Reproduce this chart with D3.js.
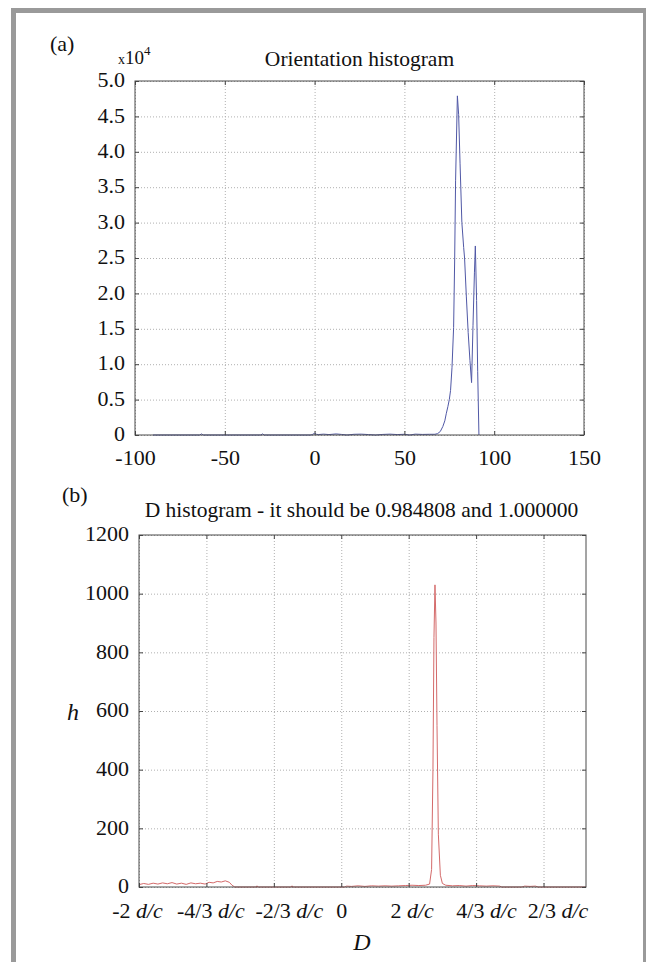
<!DOCTYPE html>
<html>
<head>
<meta charset="utf-8">
<script src="https://cdn.jsdelivr.net/npm/d3@7"></script>
<style>
  body { margin: 0; background: #fff; }
  svg text { font-family: "Liberation Serif", "Times New Roman", serif; fill: #111; }
  .grid line { stroke: #b0b0b0; stroke-dasharray: 1 2; }
  .grid path { display: none; }
  .ax path { display: none; }
  .ax line { stroke: #444; }
</style>
</head>
<body>
<svg id="chart" width="646" height="962"></svg>
<script>
/* DATA */

// (a) orientation histogram: angle (deg) -> count
const orientAngles = [-90, -64, -63, -62, -30, -29, -28, -2, -1, 0, 1, 2, 5, 8, 12, 15, 18, 22, 26, 30, 34, 38, 42, 46, 50, 53, 56, 60, 64,
  67, 68.5, 70, 71.4, 72.5, 73.3, 74.2, 75, 75.7, 76.5, 77.4, 78, 78.5, 79.5, 80.2, 81, 82, 83, 83.5, 84.5, 85.5, 86.5, 87.4,
  88.2, 89, 89.5, 90.2, 90.8, 91.5];
const orientCounts = [0, 0, 150, 0, 0, 150, 0, 0, 100, 250, 100, 60, 120, 60, 150, 80, 0, 100, 120, 60, 0, 80, 120, 60, 100, 0, 120, 80, 100,
  100, 200, 500, 1200, 2000, 3000, 4000, 5000, 6300, 9500, 15200, 25000, 35900, 47900, 45300, 38300, 30000, 26500, 25000, 19500, 14500, 10500, 7400,
  15500, 23000, 26700, 19000, 9000, 0];
const orientTicksX = [-100, -50, 0, 50, 100, 150];
const orientTicksY = [0, 5000, 10000, 15000, 20000, 25000, 30000, 35000, 40000, 45000, 50000];

// (b) D histogram: position (in units of d/c tick steps) -> h
const dPos = [-3.00, -2.93, -2.86, -2.79, -2.72, -2.65, -2.58, -2.51, -2.44, -2.37, -2.30, -2.23, -2.16, -2.09, -2.02,
  -1.96, -1.90, -1.84, -1.78, -1.72, -1.66, -1.62, -1.58, -1.26, -1.25, -1.24, -0.74, -0.73, -0.72,
  0.05, 0.08, 0.15, 0.25, 0.35, 0.45, 0.55, 0.65, 0.75, 0.85, 0.95, 1.05, 1.15, 1.25,
  1.31, 1.34, 1.36, 1.375, 1.39, 1.405, 1.42, 1.44, 1.47, 1.50, 1.55, 1.65, 1.75, 1.85, 1.95, 2.05, 2.15, 2.25, 2.35, 2.38,
  2.68, 2.72, 2.80, 2.88, 2.92, 3.63];
const dCounts = [8, 12, 9, 13, 10, 14, 11, 15, 10, 13, 9, 14, 11, 13, 10,
  16, 14, 19, 17, 21, 16, 6, 0, 0, 4, 0, 0, 4, 0,
  0, 3, 2, 4, 2, 4, 3, 4, 3, 4, 5, 6, 5, 6,
  10, 60, 400, 850, 1030, 900, 550, 180, 40, 12, 6, 4, 5, 3, 5, 4, 3, 4, 3, 0,
  0, 3, 2, 3, 0, 0];
const dTicksX = [-3, -2, -1, 0, 1, 2, 3];
const dTickNums = ["-2", "-4/3", "-2/3", "0", "2", "4/3", "2/3"];
const dTickUnits = [" d/c", " d/c", " d/c", "", " d/c", " d/c", " d/c"];
const dTicksY = [0, 200, 400, 600, 800, 1000, 1200];

/* DRAWING */

const svg = d3.select("#chart");

// outer grey frame
svg.append("rect")
  .attr("x", 13.5).attr("y", 10.5)
  .attr("width", 632).attr("height", 1000)
  .attr("fill", "none").attr("stroke", "#9a9a9a").attr("stroke-width", 5);

// draws one MATLAB-style panel; returns the group and scales
function panel(opts) {
  const g = svg.append("g");
  const x = d3.scaleLinear().domain(opts.xDomain).range([opts.left, opts.right]);
  const y = d3.scaleLinear().domain(opts.yDomain).range([opts.bottom, opts.top]);
  const w = opts.right - opts.left, h = opts.bottom - opts.top;

  // grid
  g.append("g").attr("class", "grid")
    .attr("transform", `translate(0,${opts.bottom})`)
    .call(d3.axisBottom(x).tickValues(opts.xTicks).tickSize(-h).tickFormat(""));
  g.append("g").attr("class", "grid")
    .attr("transform", `translate(${opts.left},0)`)
    .call(d3.axisLeft(y).tickValues(opts.yTicks).tickSize(-w).tickFormat(""));

  // data line
  const line = d3.line().x(d => x(d[0])).y(d => y(d[1]));
  g.append("path")
    .datum(d3.zip(opts.xs, opts.ys))
    .attr("fill", "none")
    .attr("stroke", opts.color)
    .attr("stroke-width", 1)
    .attr("d", line);

  // box
  g.append("rect")
    .attr("x", opts.left).attr("y", opts.top)
    .attr("width", w).attr("height", h)
    .attr("fill", "none").attr("stroke", "#4a4a4a").attr("stroke-width", 1);

  // inward ticks on all sides
  const xb = g.append("g").attr("class", "ax")
    .attr("transform", `translate(0,${opts.bottom})`)
    .call(d3.axisBottom(x).tickValues(opts.xTicks).tickSizeInner(-4).tickSizeOuter(0)
      .tickPadding(opts.xPad).tickFormat(opts.xFormat));
  const yl = g.append("g").attr("class", "ax")
    .attr("transform", `translate(${opts.left},0)`)
    .call(d3.axisLeft(y).tickValues(opts.yTicks).tickSizeInner(-4).tickSizeOuter(0)
      .tickPadding(10).tickFormat(opts.yFormat));
  g.append("g").attr("class", "ax")
    .attr("transform", `translate(0,${opts.top})`)
    .call(d3.axisTop(x).tickValues(opts.xTicks).tickSize(-4).tickFormat(""));
  g.append("g").attr("class", "ax")
    .attr("transform", `translate(${opts.right},0)`)
    .call(d3.axisRight(y).tickValues(opts.yTicks).tickSize(-4).tickFormat(""));

  g.selectAll(".ax").attr("font-family", null).attr("font-size", null);
  g.selectAll(".ax text").attr("font-size", 22).attr("fill", "#111");
  yl.selectAll("text").attr("dy", "0.26em");

  return { g, x, y, xb };
}

// (a) Orientation histogram
const a = panel({
  left: 135, right: 584, top: 81, bottom: 435,
  xDomain: [-100, 150], yDomain: [0, 50000],
  xTicks: orientTicksX, yTicks: orientTicksY,
  xFormat: d => d, yFormat: d => d === 0 ? "0" : (d / 1e4).toFixed(1),
  xPad: 14,
  xs: orientAngles, ys: orientCounts, color: "#5058a6"
});

svg.append("text").attr("x", 50).attr("y", 51).attr("font-size", 22).text("(a)");
svg.append("text").attr("x", 359.5).attr("y", 66).attr("font-size", 21.5)
  .attr("text-anchor", "middle").text("Orientation histogram");
const e4 = svg.append("text").attr("x", 118).attr("y", 64).attr("font-size", 19);
e4.append("tspan").attr("font-size", 14).text("x");
e4.append("tspan").text("10");
e4.append("tspan").attr("font-size", 13).attr("dy", -9).text("4");

// (b) D histogram
const b = panel({
  left: 139, right: 586, top: 535, bottom: 887,
  xDomain: [-3, 3.63], yDomain: [0, 1200],
  xTicks: dTicksX, yTicks: dTicksY,
  xFormat: "", yFormat: d => d,
  xPad: 15,
  xs: dPos, ys: dCounts, color: "#d46a6a"
});

// x tick labels with italic units; labels sit a little right of their ticks as in the source figure
const labelNudge = [-2, 4, 15, 0, 3, 10, 14];
b.xb.selectAll(".tick text").each(function (d, i) {
  const t = d3.select(this).text(null).attr("dx", labelNudge[i]);
  t.append("tspan").text(dTickNums[i]);
  t.append("tspan").attr("font-style", "italic").text(dTickUnits[i]);
});

svg.append("text").attr("x", 62).attr("y", 502).attr("font-size", 22).text("(b)");
svg.append("text").attr("x", 361.5).attr("y", 517).attr("font-size", 21.5)
  .attr("text-anchor", "middle").text("D histogram - it should be 0.984808 and 1.000000");
svg.append("text").attr("x", 73).attr("y", 720).attr("font-size", 24)
  .attr("text-anchor", "middle").attr("font-style", "italic").text("h");
svg.append("text").attr("x", 362).attr("y", 950).attr("font-size", 24)
  .attr("text-anchor", "middle").attr("font-style", "italic").text("D");
</script>
</body>
</html>
